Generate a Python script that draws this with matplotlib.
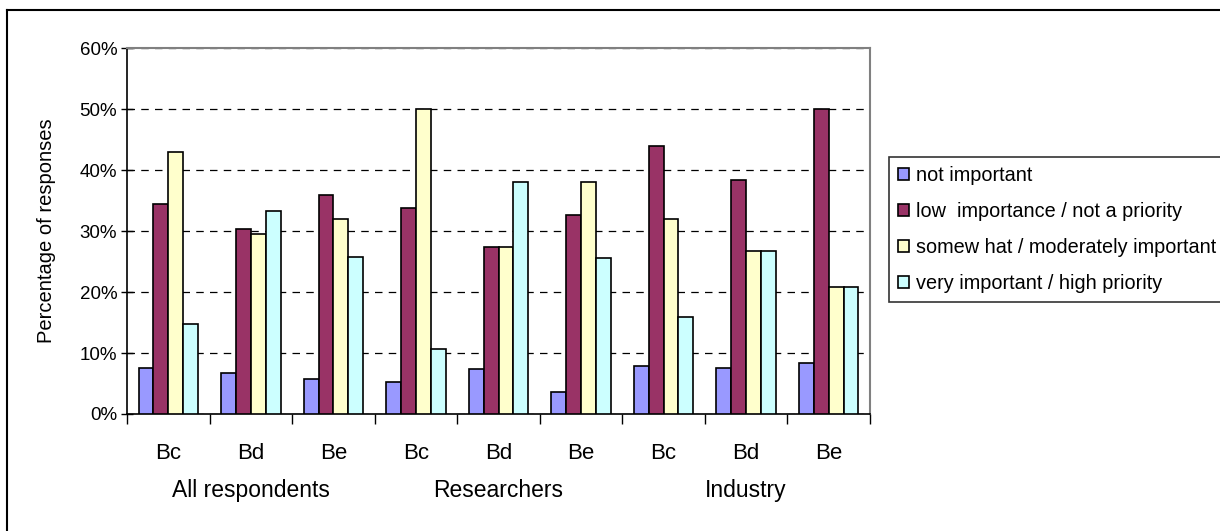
import numpy as np
import matplotlib.pyplot as plt
from matplotlib.lines import Line2D

plt.rcParams['font.family'] = ['Liberation Sans', 'DejaVu Sans']

groups = ["All respondents", "Researchers", "Industry"]
categories = ["Bc", "Bd", "Be"]
series = ["not important", "low  importance / not a priority",
          "somew hat / moderately important", "very important / high priority"]
colors = ["#9999FF", "#993366", "#FFFFCC", "#CCFFFF"]

# percent, order: All Bc, Bd, Be, Researchers Bc, Bd, Be, Industry Bc, Bd, Be
not_important = [7.6, 6.7, 5.8, 5.2, 7.3, 3.6, 7.9, 7.6, 8.3]
low_importance = [34.4, 30.3, 35.9, 33.8, 27.3, 32.6, 43.9, 38.3, 50.0]
somewhat = [43.0, 29.5, 31.9, 50.0, 27.3, 38.1, 31.9, 26.7, 20.8]
very_important = [14.7, 33.2, 25.8, 10.7, 38.1, 25.5, 15.9, 26.7, 20.8]
values = [not_important, low_importance, somewhat, very_important]

fig = plt.figure(figsize=(12.2, 5.31), dpi=100)
ax = fig.add_axes([127/1220, 1 - 414/531, (870-127)/1220, (414-48)/531])

n = len(groups) * len(categories)
x = np.arange(n) + 0.5
w = 0.18
for i, (vals, c, lab) in enumerate(zip(values, colors, series)):
    ax.bar(x + (i - 1.5) * w, vals, width=w, color=c, edgecolor='black',
           linewidth=1.2, label=lab, zorder=3)

ax.set_xlim(0, n)
ax.set_ylim(0, 60)
ax.set_yticks(np.arange(0, 61, 10))
ax.set_yticklabels([f"{v}%" for v in range(0, 61, 10)], fontsize=13.5)
ax.tick_params(axis='y', direction='inout', length=9, width=1, pad=2.5)
ax.yaxis.grid(True, linestyle=(0, (6, 5)), color='black', linewidth=0.9, zorder=0)
ax.set_axisbelow(True)

ax.set_xticks(np.arange(0, n + 1))
ax.set_xticklabels([])
ax.tick_params(axis='x', which='major', direction='out', length=7, width=1)
ax.set_xticks(x, minor=True)
ax.set_xticklabels(categories * len(groups), minor=True, fontsize=16)
ax.tick_params(axis='x', which='minor', length=0, pad=21)

for gi, g in enumerate(groups):
    ax.text((gi * 3 + 1.5) / n, -0.21, g, transform=ax.transAxes,
            ha='center', va='center', fontsize=16.5)

ax.set_ylabel("Percentage of responses", fontsize=14.5, labelpad=17)

for s in ['top', 'right']:
    ax.spines[s].set_color('#808080')
    ax.spines[s].set_linewidth(1.5)
for s in ['left', 'bottom']:
    ax.spines[s].set_color('black')
    ax.spines[s].set_linewidth(1.2)

leg = fig.legend(loc='upper left', bbox_to_anchor=(889/1220, 1 - 157/531),
                 fontsize=14.3, frameon=True, fancybox=False, edgecolor='black',
                 handlelength=0.55, handleheight=0.55, handletextpad=0.35,
                 labelspacing=0.85, borderpad=0.45, borderaxespad=0)
leg.get_frame().set_linewidth(1.2)

# outer chart frame (cut off at right and bottom)
fig.add_artist(Line2D([7/1220, 1.0], [1 - 10/531, 1 - 10/531], color='black', lw=1.5))
fig.add_artist(Line2D([7/1220, 7/1220], [0.0, 1 - 10/531], color='black', lw=1.5))

fig.savefig("out.png", dpi=100)
